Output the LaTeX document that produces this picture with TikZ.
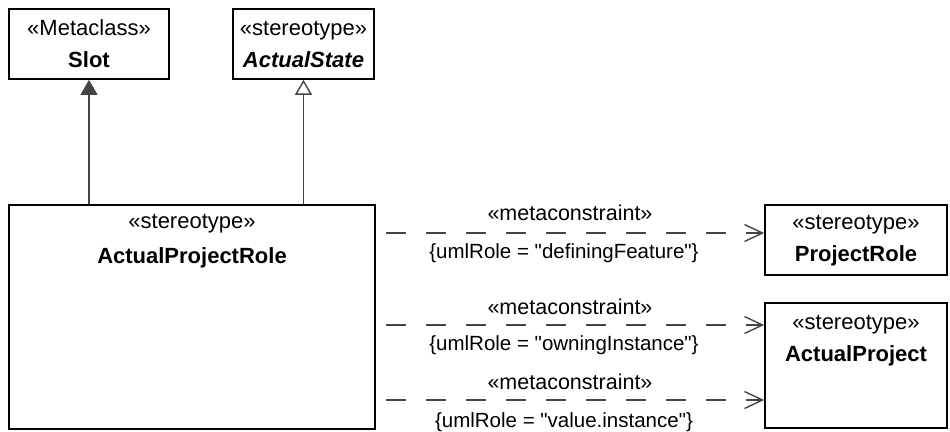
\documentclass[tikz,border=0pt]{standalone}
\usepackage{fontspec}
\setmainfont{Liberation Sans}[Ligatures=TeXOff]
\usetikzlibrary{arrows.meta}
\definecolor{lnc}{HTML}{444444}
\tikzset{
  box/.style={draw=black, line width=1.7pt, rectangle, inner sep=0pt, fill=white},
  txt/.style={font=\fontsize{22}{32}\selectfont, align=center, inner sep=0pt},
  txtb/.style={font=\fontsize{22}{35}\selectfont, align=center, inner sep=0pt},
  lbl/.style={font=\fontsize{21.5}{24}\selectfont, inner sep=0pt},
  lblr/.style={font=\fontsize{20.5}{24}\selectfont, inner sep=0pt},
  genfill/.style={draw=lnc, line width=1.4pt, -{Triangle[length=15pt,width=17pt,fill=lnc]}},
  genopen/.style={draw=lnc, line width=1.4pt, -{Triangle[open,length=15pt,width=17pt,fill=white]}},
  dep/.style={draw=lnc, line width=1.4pt, dash pattern=on 20pt off 20pt, -{Straight Barb[length=18pt,width=17pt]}}
}
\begin{document}
\begin{tikzpicture}[x=1pt,y=-1pt]
\useasboundingbox (0,0) rectangle (950,431);
% boxes
\node[box, minimum width=160pt, minimum height=70pt] (slot) at (89,44) {};
\node[txt] at (slot.center) {«Metaclass»\\\textbf{Slot}};
\node[box, minimum width=141pt, minimum height=70pt] (astate) at (303.5,44) {};
\node[txt] at (astate.center) {«stereotype»\\\textbf{\itshape ActualState}};
\node[box, minimum width=366pt, minimum height=224pt] (aprole) at (192,317) {};
\node[txtb, anchor=north] at ([yshift=-10pt]aprole.north) {«stereotype»\\\textbf{ActualProjectRole}};
\node[box, minimum width=182pt, minimum height=70pt] (prole) at (856,240) {};
\node[txt] at ([yshift=-1pt]prole.center) {«stereotype»\\\textbf{ProjectRole}};
\node[box, minimum width=182pt, minimum height=125pt] (aproj) at (856,365.5) {};
\node[txt, anchor=north] at ([yshift=-13pt]aproj.north) {«stereotype»\\\textbf{ActualProject}};
% generalizations
\draw[genfill] (slot.south |- aprole.north) -- (slot.south);
\draw[genopen] (astate.south |- aprole.north) -- (astate.south);
% dependencies
\coordinate (d1) at (386,233);
\coordinate (d2) at (386,325);
\coordinate (d3) at (386,400);
\draw[dep] (d1) -- (prole.west |- d1);
\draw[dep] (d2) -- (aproj.west |- d2);
\draw[dep] (d3) -- (aproj.west |- d3);
\node[lbl] (m1) at (570,213) {«metaconstraint»};
\node[lblr] (r1) at (564,253) {\{umlRole = "definingFeature"\}};
\node[lbl] (m2) at (570,307) {«metaconstraint»};
\node[lblr] (r2) at (564,345) {\{umlRole = "owningInstance"\}};
\node[lbl] (m3) at (570,382) {«metaconstraint»};
\node[lblr] (r3) at (564,422) {\{umlRole = "value.instance"\}};
\end{tikzpicture}
\end{document}
